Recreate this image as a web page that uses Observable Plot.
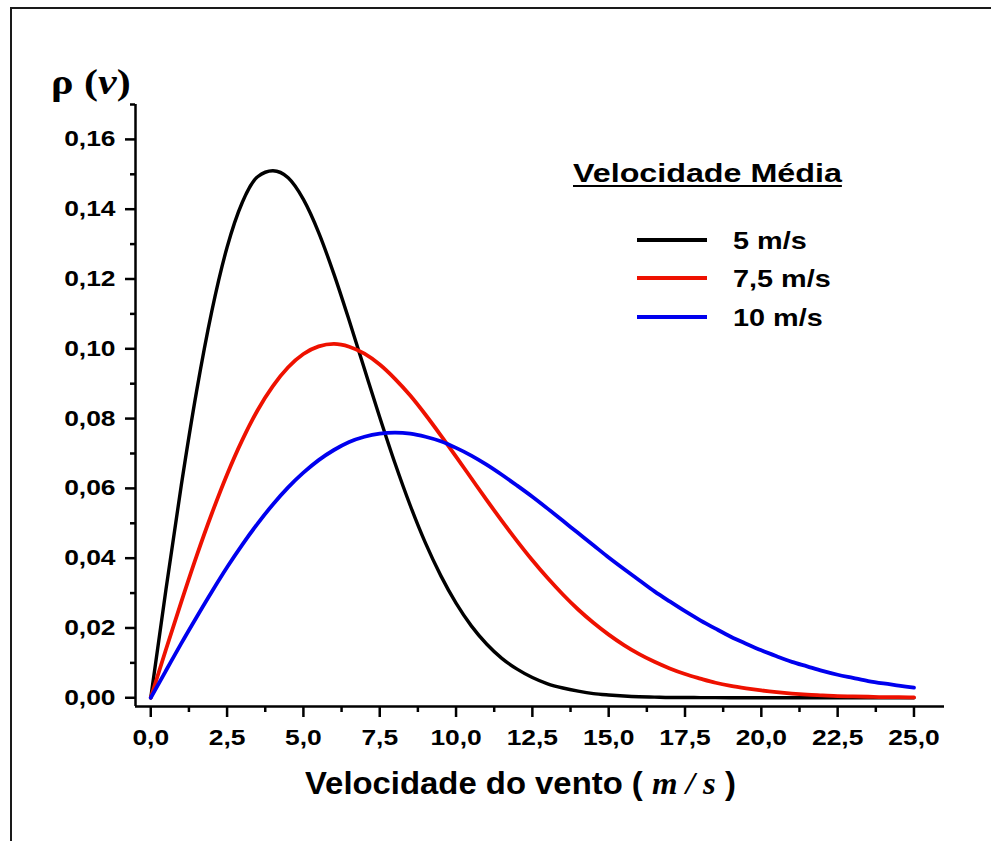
<!DOCTYPE html>
<html>
<head>
<meta charset="utf-8">
<script src="https://cdn.jsdelivr.net/npm/d3@7"></script>
<script src="https://cdn.jsdelivr.net/npm/@observablehq/plot@0.6"></script>
<style>
  html, body { margin: 0; padding: 0; background: #fff; }
  body { width: 991px; height: 841px; position: relative; overflow: hidden; font-family: "Liberation Sans", Arial, sans-serif; }
  #frame { position: absolute; left: 10px; top: 7px; width: 1100px; height: 1000px; border-left: 2px solid #1a1a1a; border-top: 2px solid #1a1a1a; }
  #chart { position: absolute; left: 0; top: 0; }
  .s { position: absolute; transform-origin: 0 0; white-space: nowrap; font-weight: bold; color: #000; line-height: 1; }
  .serif { font-family: "Liberation Serif", "Times New Roman", serif; }
  .legline { position: absolute; }
</style>
</head>
<body>
<div id="frame"></div>
<div id="chart"></div>
<div id="ytitle" class="s serif" style="left:51px; top:65px; font-size:35px; transform:scaleX(1.2);">ρ (<i>v</i>)</div>
<div id="xtitle" class="s" style="left:305px; top:768px; font-size:31px; transform:scaleX(1.06);">Velocidade do vento ( <i class="serif">m / s</i> )</div>
<div id="legend"></div>
<script>
// ---- data ----
const speeds = [0,0.5,1,1.5,2,2.5,3,3.5,4,4.5,5,5.5,6,6.5,7,7.5,8,8.5,9,9.5,10,10.5,11,11.5,12,12.5,13,13.5,14,14.5,15,15.5,16,16.5,17,17.5,18,18.5,19,19.5,20,20.5,21,21.5,22,22.5,23,23.5,24,24.5,25];
const seriesNames = ["5 m/s", "7,5 m/s", "10 m/s"];
const seriesColors = ["#000000", "#ee1100", "#0000ee"];
const seriesWidths = [3.4, 3.8, 3.8];
const rho5 = [0,0.0312,0.0609,0.0878,0.1108,0.1291,0.1420,0.1493,0.1510,0.1490,0.1428,0.1333,0.1214,0.1081,0.0942,0.0804,0.0672,0.0551,0.0443,0.0350,0.0271,0.0206,0.0154,0.0113,0.0082,0.0058,0.0040,0.0028,0.0019,0.0012,0.0008,0.0005,0.0003,0.0002,0.0001,0.0001,0.00005,0.00003,0.00002,0.00001,0,0,0,0,0,0,0,0,0,0,0];
const rho75 = [0,0.0139,0.0275,0.0406,0.0528,0.0640,0.0739,0.0824,0.0893,0.0947,0.0985,0.1007,0.1014,0.1006,0.0986,0.0955,0.0914,0.0866,0.0811,0.0752,0.0691,0.0629,0.0567,0.0507,0.0449,0.0394,0.0343,0.0296,0.0253,0.0215,0.0181,0.0151,0.0125,0.0103,0.0084,0.0068,0.0055,0.0043,0.0034,0.0027,0.0021,0.0016,0.0012,0.0009,0.0007,0.0005,0.0004,0.0003,0.0002,0.0002,0.0001];
const rho10 = [0,0.0078,0.0156,0.0231,0.0304,0.0374,0.0439,0.0499,0.0554,0.0603,0.0645,0.0681,0.0710,0.0733,0.0748,0.0757,0.0760,0.0757,0.0748,0.0735,0.0716,0.0694,0.0668,0.0639,0.0608,0.0576,0.0542,0.0507,0.0472,0.0437,0.0402,0.0369,0.0337,0.0305,0.0276,0.0248,0.0222,0.0198,0.0175,0.0155,0.0136,0.0119,0.0103,0.0090,0.0077,0.0066,0.0057,0.0048,0.0041,0.0035,0.0029];
const seriesValues = [rho5, rho75, rho10];

const xDomain = [-0.5, 26];
const yDomain = [-0.0025, 0.17];
const xMajorTicks = [0, 2.5, 5, 7.5, 10, 12.5, 15, 17.5, 20, 22.5, 25];
const xMajorLabels = ["0,0","2,5","5,0","7,5","10,0","12,5","15,0","17,5","20,0","22,5","25,0"];
const xMinorTicks = [1.25, 3.75, 6.25, 8.75, 11.25, 13.75, 16.25, 18.75, 21.25, 23.75];
const yMajorTicks = [0, 0.02, 0.04, 0.06, 0.08, 0.10, 0.12, 0.14, 0.16];
const yMajorLabels = ["0,00","0,02","0,04","0,06","0,08","0,10","0,12","0,14","0,16"];
const yMinorTicks = [0.01, 0.03, 0.05, 0.07, 0.09, 0.11, 0.13, 0.15, 0.17];

const legendTitle = "Velocidade Média";

// ---- build ----
const lineMarks = seriesNames.map((name, i) => {
  const rows = speeds.map((v, j) => ({ v, p: seriesValues[i][j], s: name }));
  return Plot.line(rows, { x: "v", y: "p", stroke: seriesColors[i], strokeWidth: seriesWidths[i], curve: "monotone-x", strokeLinejoin: "round", strokeLinecap: "round" });
});

const chart = Plot.plot({
  width: 991,
  height: 841,
  marginLeft: 135,
  marginRight: 47,
  marginTop: 104,
  marginBottom: 135,
  x: { domain: xDomain },
  y: { domain: yDomain },
  style: { fontFamily: '"Liberation Sans", Arial, sans-serif', fontSize: "22px", fontWeight: "bold", color: "#000", background: "transparent", overflow: "visible" },
  marks: [
    Plot.axisX(xMajorTicks, { tickSize: 11, tickPadding: 12, tickFormat: (d) => xMajorLabels[xMajorTicks.indexOf(d)], strokeWidth: 2.5, label: null }),
    Plot.axisX(xMinorTicks, { tickSize: 6, tickFormat: () => "", strokeWidth: 2.5, label: null }),
    Plot.axisY(yMajorTicks, { tickSize: 10, tickPadding: 10, tickFormat: (d) => yMajorLabels[yMajorTicks.indexOf(d)], strokeWidth: 2.5, label: null }),
    Plot.axisY(yMinorTicks, { tickSize: 5, tickFormat: () => "", strokeWidth: 2.5, label: null }),
    Plot.ruleX([xDomain[0]], { strokeWidth: 2.5 }),
    Plot.ruleY([yDomain[0]], { strokeWidth: 2.5 }),
    ...lineMarks
  ]
});
document.getElementById("chart").appendChild(chart);

// stretch tick labels horizontally like the reference
chart.querySelectorAll('g[aria-label="x-axis tick label"] text, g[aria-label="y-axis tick label"] text').forEach((t) => {
  const tr = t.getAttribute("transform");
  if (tr) t.setAttribute("transform", tr + " scale(1.2,1)");
});

// ---- legend (HTML) ----
const legend = document.getElementById("legend");
const title = document.createElement("div");
title.className = "s";
title.style.cssText = "left:573px; top:161px; font-size:25px; transform:scaleX(1.29); text-decoration:underline; text-underline-offset:3px; text-decoration-thickness:2px;";
title.textContent = legendTitle;
legend.appendChild(title);
const legendY = [240, 278, 317];
seriesNames.forEach((name, i) => {
  const ln = document.createElement("div");
  ln.className = "legline";
  ln.style.cssText = `left:637px; top:${legendY[i] - seriesWidths[i] / 2}px; width:70px; height:${seriesWidths[i]}px; background:${seriesColors[i]};`;
  legend.appendChild(ln);
  const lb = document.createElement("div");
  lb.className = "s";
  lb.style.cssText = `left:733px; top:${legendY[i] - 11}px; font-size:24px; transform:scaleX(1.2);`;
  lb.textContent = name;
  legend.appendChild(lb);
});
</script>
</body>
</html>
